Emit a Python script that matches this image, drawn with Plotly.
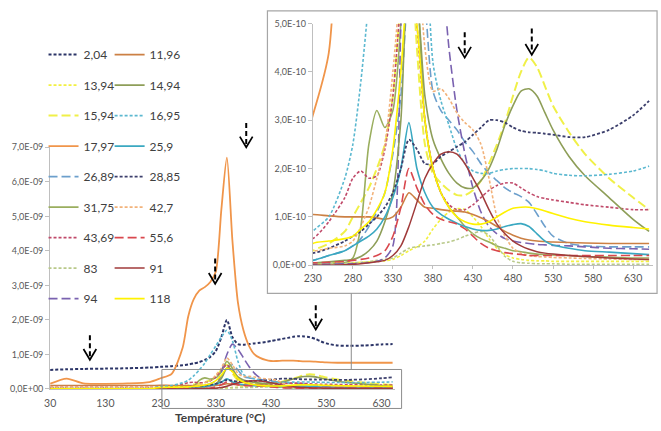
import plotly.graph_objects as go

W, H = 661, 431

# ---------------- data (values in units of 1E-10) ----------------
temperature = [30, 60, 90, 130, 170, 210, 230, 250, 270, 280, 290, 300, 310, 320, 330, 340,
               350, 360, 370, 380, 390, 400, 410, 420, 430, 440, 450, 460, 470, 480, 490, 500,
               510, 520, 530, 550, 570, 600, 630, 650]

s_2_04 = [5.5, 5.7, 5.8, 5.9, 6.0, 6.2, 6.4, 6.6, 6.9, 7.1, 7.4, 7.8, 8.4, 9.3, 11, 15, 20, 15,
          13, 12.8, 13, 13.2, 13.4, 13.6, 13.9, 14.2, 14.5, 14.8, 15.1, 15.3, 15.2, 15.0, 14.5,
          13.8, 13.2, 12.6, 12.5, 12.6, 12.9, 13.0]
s_11_96 = [1.0, 1.0, 1.0, 1.0, 1.0, 1.0, 1.05, 1.02, 1.0, 1.0, 1.0, 1.0, 0.98, 0.95, 1.0, 1.2,
           1.5, 1.35, 1.2, 1.18, 1.15, 1.13, 1.12, 1.1, 1.05, 0.98, 0.9, 0.8, 0.7, 0.62, 0.56,
           0.52, 0.5, 0.49, 0.48, 0.47, 0.46, 0.45, 0.45, 0.45]
s_13_94 = [0.1, 0.1, 0.1, 0.1, 0.1, 0.1, 0.05, 0.05, 0.05, 0.05, 0.06, 0.07, 0.08, 0.09, 0.12,
           0.2, 0.3, 0.38, 0.5, 0.75, 0.95, 1.1, 1.17, 1.15, 1.0, 0.8, 0.55, 0.35, 0.22, 0.15,
           0.12, 0.1, 0.09, 0.09, 0.08, 0.08, 0.08, 0.08, 0.08, 0.08]
s_14_94 = [0.1, 0.1, 0.1, 0.1, 0.1, 0.1, 0.05, 0.07, 0.1, 0.12, 0.18, 0.3, 0.5, 0.9, 1.5, 3.0,
           6.0, 5.5, 3.5, 2.6, 2.2, 1.9, 1.7, 1.6, 1.6, 1.75, 2.0, 2.4, 2.9, 3.3, 3.6, 3.65,
           3.5, 3.15, 2.8, 2.25, 1.85, 1.4, 0.95, 0.7]
s_15_94 = [0.1, 0.1, 0.1, 0.1, 0.1, 0.1, 0.3, 0.45, 0.7, 1.0, 1.3, 1.6, 2.0, 2.5, 3.5, 5.5,
           7.0, 4.5, 2.5, 1.9, 1.7, 1.55, 1.45, 1.45, 1.55, 1.75, 2.1, 2.5, 2.95, 3.5, 4.0,
           4.3, 4.1, 3.7, 3.3, 2.75, 2.3, 1.8, 1.4, 1.15]
s_16_95 = [0.2, 0.2, 0.2, 0.2, 0.2, 0.2, 0.7, 1.0, 1.8, 2.5, 3.8, 5.5, 7.5, 10, 12.5, 15, 17,
           14, 8, 4.2, 3.4, 2.9, 2.4, 2.1, 1.95, 1.9, 1.9, 1.95, 1.98, 2.0, 2.0, 2.0, 1.98,
           1.95, 1.9, 1.86, 1.85, 1.88, 1.95, 2.05]
s_17_97 = [1.5, 3.0, 1.6, 1.5, 1.6, 2.0, 3.1, 4.4, 12, 21, 26, 28.5, 29.5, 31, 34, 52, 67, 43,
           25, 17, 12.5, 10, 9, 8.4, 8.1, 8.1, 8.2, 8.2, 8.2, 8.1, 8.0, 8.0, 7.9, 7.8, 7.7,
           7.6, 7.6, 7.6, 7.6, 7.6]
s_25_9 = [0.05, 0.05, 0.05, 0.05, 0.05, 0.05, 0.1, 0.2, 0.3, 0.4, 0.5, 0.6, 0.75, 1.0, 1.4,
          2.0, 2.95, 2.0, 1.5, 1.2, 1.05, 0.95, 0.87, 0.8, 0.75, 0.72, 0.72, 0.75, 0.8, 0.84,
          0.86, 0.8, 0.65, 0.5, 0.42, 0.35, 0.3, 0.27, 0.24, 0.22]
s_26_89 = [0.05, 0.05, 0.05, 0.05, 0.05, 0.05, 0.1, 0.2, 0.3, 0.4, 0.55, 0.8, 1.1, 1.5, 2.3,
           3.5, 6, 7, 5.5, 3.6, 3.2, 3.0, 2.8, 2.55, 2.35, 2.1, 1.9, 1.75, 1.6, 1.5, 1.42, 1.3,
           1.06, 0.8, 0.6, 0.45, 0.4, 0.38, 0.38, 0.38]
s_28_85 = [0.3, 0.3, 0.3, 0.3, 0.3, 0.3, 0.25, 0.35, 0.5, 0.6, 0.7, 0.85, 1.0, 1.2, 1.5, 2.0,
           2.6, 2.4, 2.1, 2.1, 2.25, 2.35, 2.45, 2.55, 2.7, 2.85, 3.0, 3.0, 2.95, 2.85, 2.78,
           2.75, 2.74, 2.72, 2.7, 2.65, 2.65, 2.8, 3.1, 3.4]
s_31_75 = [0.05, 0.05, 0.05, 0.05, 0.05, 0.05, 0.02, 0.03, 0.05, 0.15, 0.8, 2.5, 3.2, 2.85,
           3.2, 5, 8, 6, 3, 2.0, 1.5, 1.2, 1.0, 0.8, 0.65, 0.55, 0.48, 0.4, 0.35, 0.3, 0.28,
           0.25, 0.23, 0.22, 0.21, 0.2, 0.18, 0.17, 0.15, 0.15]
s_42_7 = [0.5, 0.5, 0.5, 0.5, 0.5, 0.5, 0.3, 0.35, 0.4, 0.5, 0.8, 1.2, 1.8, 2.5, 4, 6, 9, 7,
          4.5, 3.6, 3.65, 3.45, 3.15, 2.95, 2.8, 2.5, 1.8, 1.0, 0.6, 0.35, 0.25, 0.2, 0.18,
          0.17, 0.16, 0.15, 0.14, 0.13, 0.12, 0.12]
s_43_69 = [0.5, 0.5, 0.5, 0.5, 0.5, 0.5, 0.55, 0.9, 1.4, 1.8, 1.95, 1.8, 1.85, 2.4, 3.5, 5.5,
           7, 5, 3, 2.0, 1.5, 1.25, 1.15, 1.15, 1.25, 1.4, 1.55, 1.65, 1.7, 1.7, 1.6, 1.5,
           1.42, 1.38, 1.35, 1.3, 1.25, 1.2, 1.15, 1.15]
s_55_6 = [0.05, 0.05, 0.05, 0.05, 0.05, 0.05, 0.05, 0.06, 0.08, 0.1, 0.12, 0.15, 0.2, 0.3, 0.6,
          1.2, 2.0, 1.6, 1.25, 1.05, 0.95, 0.9, 0.85, 0.75, 0.6, 0.45, 0.35, 0.3, 0.26, 0.24,
          0.22, 0.2, 0.2, 0.2, 0.2, 0.2, 0.2, 0.2, 0.2, 0.2]
s_83 = [0.2, 0.2, 0.2, 0.2, 0.2, 0.2, 0.02, 0.03, 0.04, 0.05, 0.06, 0.07, 0.1, 0.12, 0.15, 0.25,
        0.35, 0.38, 0.4, 0.42, 0.45, 0.48, 0.53, 0.6, 0.66, 0.7, 0.62, 0.4, 0.18, 0.08, 0.05,
        0.04, 0.03, 0.03, 0.03, 0.02, 0.02, 0.02, 0.02, 0.02]
s_91 = [0.02, 0.02, 0.02, 0.02, 0.02, 0.02, 0.0, 0.0, 0.01, 0.02, 0.03, 0.05, 0.07, 0.1, 0.2,
        0.4, 0.8, 1.3, 1.8, 2.1, 2.3, 2.35, 2.3, 2.1, 1.8, 1.5, 1.15, 0.85, 0.65, 0.5, 0.4,
        0.33, 0.28, 0.25, 0.23, 0.2, 0.18, 0.15, 0.13, 0.12]
s_94 = [0.02, 0.02, 0.02, 0.02, 0.02, 0.02, 0.02, 0.02, 0.03, 0.03, 0.04, 0.05, 0.08, 0.15,
        0.4, 5, 10, 13, 11.5, 9, 6.5, 4.5, 3.2, 2.3, 1.6, 1.1, 0.8, 0.65, 0.55, 0.5, 0.47,
        0.45, 0.43, 0.42, 0.41, 0.4, 0.38, 0.35, 0.34, 0.33]
s_118 = [0.05, 0.05, 0.05, 0.05, 0.05, 0.05, 0.45, 0.5, 0.55, 0.6, 0.75, 0.9, 1.15, 1.5, 2.4,
         4, 6, 5, 3, 2.0, 1.5, 1.2, 1.0, 0.9, 0.85, 0.85, 0.9, 1.0, 1.1, 1.18, 1.2, 1.2, 1.17,
         1.12, 1.07, 0.97, 0.9, 0.83, 0.78, 0.75]

UNIT = 1e-10

series_left = [("2,04", s_2_04), ("13,94", s_13_94), ("15,94", s_15_94), ("17,97", s_17_97),
               ("26,89", s_26_89), ("31,75", s_31_75), ("43,69", s_43_69), ("83", s_83),
               ("94", s_94)]
series_right = [("11,96", s_11_96), ("14,94", s_14_94), ("16,95", s_16_95), ("25,9", s_25_9),
                ("28,85", s_28_85), ("42,7", s_42_7), ("55,6", s_55_6), ("91", s_91),
                ("118", s_118)]

main_yticks = [0, 1e-9, 2e-9, 3e-9, 4e-9, 5e-9, 6e-9, 7e-9]
main_ytext = ["0,0E+00", "1,0E-09", "2,0E-09", "3,0E-09", "4,0E-09", "5,0E-09", "6,0E-09", "7,0E-09"]
main_xticks = [30, 130, 230, 330, 430, 530, 630]
inset_yticks = [0, 1e-10, 2e-10, 3e-10, 4e-10, 5e-10]
inset_ytext = ["0,0E+00", "1,0E-10", "2,0E-10", "3,0E-10", "4,0E-10", "5,0E-10"]
inset_xticks = [230, 280, 330, 380, 430, 480, 530, 580, 630]

# ---------------- styles ----------------
styles = {
    "2,04": dict(color="#2B3467", dash="3px,2px", width=2),
    "11,96": dict(color="#CC8044", dash="solid", width=1.6),
    "13,94": dict(color="#F2F040", dash="3px,2px", width=1.6),
    "14,94": dict(color="#8E9E58", dash="solid", width=1.6),
    "15,94": dict(color="#F0F048", dash="9px,4px", width=2),
    "16,95": dict(color="#5BB8D0", dash="3px,2px", width=1.6),
    "17,97": dict(color="#F0954A", dash="solid", width=1.8),
    "25,9": dict(color="#3AA8C1", dash="solid", width=1.6),
    "26,89": dict(color="#6C9FCC", dash="9px,4px", width=1.6),
    "28,85": dict(color="#3C3F6C", dash="3px,2px", width=1.8),
    "31,75": dict(color="#9AAE5E", dash="solid", width=1.6),
    "42,7": dict(color="#F2B27A", dash="3px,2px", width=1.6),
    "43,69": dict(color="#C04A6A", dash="3px,2px", width=1.6),
    "55,6": dict(color="#D9484E", dash="9px,4px", width=1.6),
    "83": dict(color="#B9C98A", dash="3px,2px", width=1.6),
    "91": dict(color="#A03A3A", dash="solid", width=1.5),
    "94": dict(color="#7A62B0", dash="9px,4px", width=1.6),
    "118": dict(color="#FFF200", dash="solid", width=1.6),
}


def px(x):
    return x / W


def py(y):
    return 1 - y / H


fig = go.Figure()

for legend_id, group in (("legend", series_left), ("legend2", series_right)):
    for name, vals in group:
        st = styles[name]
        yv = [v * UNIT for v in vals]
        line = dict(color=st["color"], dash=st["dash"], width=st["width"], shape="spline",
                    smoothing=0.7)
        fig.add_trace(go.Scatter(x=temperature, y=yv, mode="lines", name=name, line=line,
                                 legend=legend_id, legendgroup=name, showlegend=True,
                                 xaxis="x", yaxis="y", hoverinfo="skip"))
        fig.add_trace(go.Scatter(x=temperature, y=yv, mode="lines", name=name, line=line,
                                 legendgroup=name, showlegend=False,
                                 xaxis="x2", yaxis="y2", hoverinfo="skip"))

FONT = "Lato, 'Liberation Sans', Arial, sans-serif"
axis_gray = "#BFBFBF"
lab_gray = "#595959"

shapes = []
# inset frame
shapes.append(dict(type="rect", xref="paper", yref="paper", x0=px(262), x1=px(657),
                   y0=py(295), y1=py(5), line=dict(color="#A6A6A6", width=1.2),
                   fillcolor="white", layer="below"))
# zoom box in main chart
shapes.append(dict(type="rect", xref="paper", yref="paper", x0=px(155), x1=px(398),
                   y0=py(413), y1=py(373), line=dict(color="#8C8C8C", width=1),
                   fillcolor="rgba(0,0,0,0)", layer="above"))
# connector line
shapes.append(dict(type="line", xref="paper", yref="paper", x0=px(347), x1=px(347),
                   y0=py(373), y1=py(295), line=dict(color="#8C8C8C", width=1)))

# dashed arrows (x, top, tip)
arrows = [(82, 338, 363), (209, 259, 285), (240.5, 120, 145), (311, 307, 332),
          (462, 27, 53), (530, 23, 50)]
for ax, top, tip in arrows:
    shapes.append(dict(type="line", xref="paper", yref="paper", x0=px(ax), x1=px(ax),
                       y0=py(top), y1=py(tip - 3),
                       line=dict(color="black", width=2, dash="5px,3px")))
    shapes.append(dict(type="path", xref="paper", yref="paper",
                       path=f"M {px(ax - 6.5)},{py(tip - 11)} L {px(ax)},{py(tip)} L {px(ax + 6.5)},{py(tip - 11)}",
                       line=dict(color="black", width=1.7)))

legend_common = dict(orientation="v", bgcolor="rgba(0,0,0,0)", borderwidth=0,
                     font=dict(family=FONT, size=12, color="#404040"),
                     tracegroupgap=11.5, itemclick=False, itemdoubleclick=False,
                     xanchor="left", yanchor="top")

fig.update_layout(
    width=W, height=H,
    margin=dict(l=0, r=0, t=0, b=0),
    paper_bgcolor="white",
    plot_bgcolor="rgba(0,0,0,0)",
    showlegend=True,
    legend=dict(x=px(35), y=py(35), **legend_common),
    legend2=dict(x=px(102), y=py(35), **legend_common),
    xaxis=dict(domain=[px(41.7), px(391.7)], range=[30, 655], tickvals=main_xticks,
               showgrid=False, zeroline=False, showline=True, linecolor=axis_gray,
               linewidth=1, ticks="", ticklabelstandoff=4,
               tickfont=dict(family=FONT, size=10.5, color=lab_gray), anchor="y"),
    yaxis=dict(domain=[py(393), py(145)], range=[0, 7e-9], tickvals=main_yticks,
               ticktext=main_ytext, showgrid=False, zeroline=False, showline=True,
               linecolor=axis_gray, linewidth=1, ticks="outside", ticklen=4,
               tickcolor=axis_gray, tickfont=dict(family=FONT, size=9, color=lab_gray),
               anchor="x"),
    xaxis2=dict(domain=[px(308), px(653)], range=[230, 655], tickvals=inset_xticks,
                showgrid=False, zeroline=False, showline=True, linecolor=axis_gray,
                linewidth=1, ticks="outside", ticklen=3, tickcolor=axis_gray,
                tickfont=dict(family=FONT, size=10.5, color=lab_gray), anchor="y2"),
    yaxis2=dict(domain=[py(266), py(18)], range=[0, 5e-10], tickvals=inset_yticks,
                ticktext=inset_ytext, showgrid=False, zeroline=False, showline=True,
                linecolor=axis_gray, linewidth=1, ticks="outside", ticklen=4,
                tickcolor=axis_gray, tickfont=dict(family=FONT, size=9, color=lab_gray),
                anchor="x2"),
    shapes=shapes,
    annotations=[dict(text="<b>Température (°C)</b>", xref="paper", yref="paper",
                      x=px(214), y=py(422.5), xanchor="center", yanchor="middle",
                      showarrow=False,
                      font=dict(family=FONT, size=12, color="#404040"))],
)

fig.write_html("out.html")
